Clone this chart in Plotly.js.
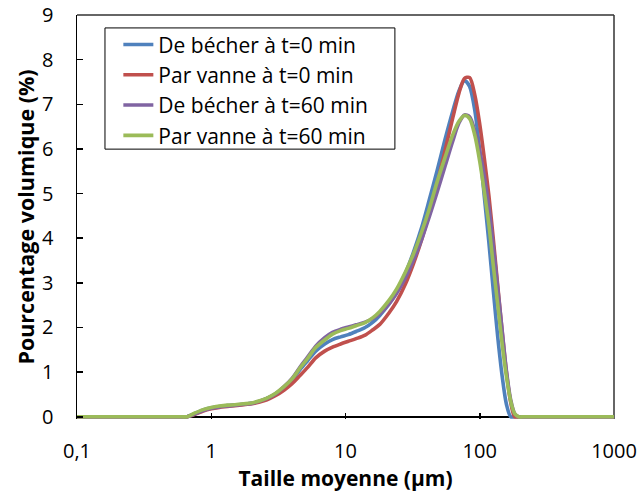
<!DOCTYPE html>
<html>
<head>
<meta charset="utf-8">
<script src="https://cdn.plot.ly/plotly-3.0.1.min.js"></script>
<style>html,body{margin:0;padding:0;background:#fff;}#chart{width:640px;height:493px;}</style>
</head>
<body>
<div id="chart"></div>
<script>
// Particle size (µm)
const sizes = [0.1, 0.2, 0.3, 0.45, 0.6, 0.66, 0.75, 0.87, 1.0, 1.15, 1.32, 1.5, 1.75, 2.0, 2.3, 2.6, 3.0, 3.5, 4.0, 4.6, 5.2, 6.0, 7.0, 8.0, 9.2, 10.5, 12, 14, 16, 18, 21, 24, 28, 32, 37, 42, 48, 55, 63, 70, 77, 84, 92, 100, 108, 117, 126, 136, 147, 158, 170, 182, 195, 210, 300, 500, 1000];

const becherT0 = [0, 0, 0, 0, 0, 0, 0.07, 0.15, 0.20, 0.23, 0.25, 0.26, 0.28, 0.30, 0.35, 0.41, 0.51, 0.66, 0.83, 1.06, 1.25, 1.47, 1.63, 1.73, 1.79, 1.84, 1.91, 2.00, 2.12, 2.27, 2.52, 2.80, 3.22, 3.68, 4.25, 4.85, 5.50, 6.20, 6.85, 7.30, 7.53, 7.40, 6.85, 5.95, 4.95, 3.90, 2.85, 1.80, 0.90, 0.28, 0, 0, 0, 0, 0, 0, 0];

const vanneT0 = [0, 0, 0, 0, 0, 0, 0.05, 0.13, 0.18, 0.21, 0.23, 0.25, 0.27, 0.29, 0.33, 0.38, 0.47, 0.60, 0.74, 0.93, 1.10, 1.32, 1.47, 1.56, 1.63, 1.69, 1.75, 1.83, 1.95, 2.07, 2.32, 2.58, 2.98, 3.42, 3.98, 4.55, 5.20, 5.95, 6.70, 7.25, 7.58, 7.60, 7.20, 6.55, 5.80, 4.95, 4.00, 2.95, 1.90, 1.00, 0.32, 0, 0, 0, 0, 0, 0];

const becherT60 = [0, 0, 0, 0, 0, 0, 0.06, 0.14, 0.19, 0.22, 0.24, 0.26, 0.28, 0.30, 0.35, 0.41, 0.51, 0.68, 0.86, 1.12, 1.33, 1.58, 1.77, 1.89, 1.96, 2.01, 2.06, 2.12, 2.20, 2.31, 2.52, 2.76, 3.12, 3.50, 3.98, 4.47, 5.02, 5.60, 6.18, 6.58, 6.76, 6.72, 6.40, 5.95, 5.40, 4.70, 3.85, 2.90, 1.92, 1.03, 0.38, 0.07, 0, 0, 0, 0, 0];

const vanneT60 = [0, 0, 0, 0, 0, 0, 0.08, 0.16, 0.21, 0.24, 0.26, 0.27, 0.29, 0.31, 0.36, 0.42, 0.52, 0.68, 0.85, 1.10, 1.30, 1.55, 1.72, 1.85, 1.93, 1.98, 2.04, 2.11, 2.22, 2.36, 2.60, 2.86, 3.25, 3.64, 4.15, 4.65, 5.25, 5.80, 6.32, 6.62, 6.75, 6.68, 6.30, 5.72, 5.05, 4.30, 3.40, 2.52, 1.62, 0.90, 0.35, 0.07, 0, 0, 0, 0, 0];

const seriesNames = ['De bécher à t=0 min', 'Par vanne à t=0 min', 'De bécher à t=60 min', 'Par vanne à t=60 min'];
const seriesColors = ['#4F81BD', '#C0504D', '#8064A2', '#9BBB59'];
const seriesValues = [becherT0, vanneT0, becherT60, vanneT60];

const xTickVals = [0.1, 1, 10, 100, 1000];
const xTickText = ['0,1', '1', '10', '100', '1000'];
const yTickVals = [0, 1, 2, 3, 4, 5, 6, 7, 8, 9];

const font = "'Open Sans', 'Noto Sans', sans-serif";

const traces = seriesValues.map((v, i) => ({
  x: sizes, y: v, type: 'scatter', mode: 'lines', name: seriesNames[i],
  line: {color: seriesColors[i], width: 3.6, shape: 'spline', smoothing: 0.8}
}));

const layout = {
  width: 640, height: 493,
  margin: {l: 77, r: 26, t: 15, b: 74, pad: 0},
  paper_bgcolor: '#fff', plot_bgcolor: '#fff',
  font: {family: font, size: 20, color: '#000'},
  showlegend: true,
  legend: {
    x: 0.077, y: 0.977, xanchor: 'left', yanchor: 'top',
    bgcolor: 'rgba(0,0,0,0)', borderwidth: 0,
    font: {family: font, size: 21, color: '#000'}
  },
  xaxis: {
    type: 'log', range: [-1, 3],
    tickvals: xTickVals, ticktext: xTickText,
    ticks: 'inside', ticklen: 6, tickwidth: 1.5, tickcolor: '#000',
    showline: false, showgrid: false, zeroline: false,
    ticklabelstandoff: 18, ticklabeloverflow: 'allow',
    tickfont: {family: font, size: 20, color: '#000'},
    title: {text: '<b>Taille moyenne (µm)</b>', font: {family: font, size: 21, color: '#000'}, standoff: 8},
    fixedrange: true
  },
  yaxis: {
    range: [-0.05, 9],
    tickvals: yTickVals,
    ticks: 'inside', ticklen: 6, tickwidth: 1.5, tickcolor: '#000',
    showline: true, linecolor: '#000', linewidth: 1.5,
    showgrid: false,
    zeroline: true, zerolinecolor: '#000', zerolinewidth: 1.5,
    ticklabelstandoff: 18, ticklabeloverflow: 'allow',
    tickfont: {family: font, size: 20, color: '#000'},
    title: {text: '<b>Pourcentage volumique (%)</b>', font: {family: font, size: 21.5, color: '#000'}, standoff: 1},
    fixedrange: true
  },
  shapes: [
    {type: 'line', xref: 'paper', yref: 'paper', x0: 0, x1: 1, y0: 1, y1: 1, line: {color: '#333', width: 1.5}, layer: 'below'},
    {type: 'line', xref: 'paper', yref: 'paper', x0: 1, x1: 1, y0: 0, y1: 1, line: {color: '#333', width: 1.5}, layer: 'below'},
    {type: 'rect', xref: 'paper', yref: 'paper', x0: 0.0521, x1: 0.592, y0: 0.668, y1: 0.968, line: {color: '#000', width: 1}, fillcolor: '#fff', layer: 'above'}
  ]
};

Plotly.newPlot('chart', traces, layout, {displayModeBar: false, staticPlot: true});
</script>
</body>
</html>
